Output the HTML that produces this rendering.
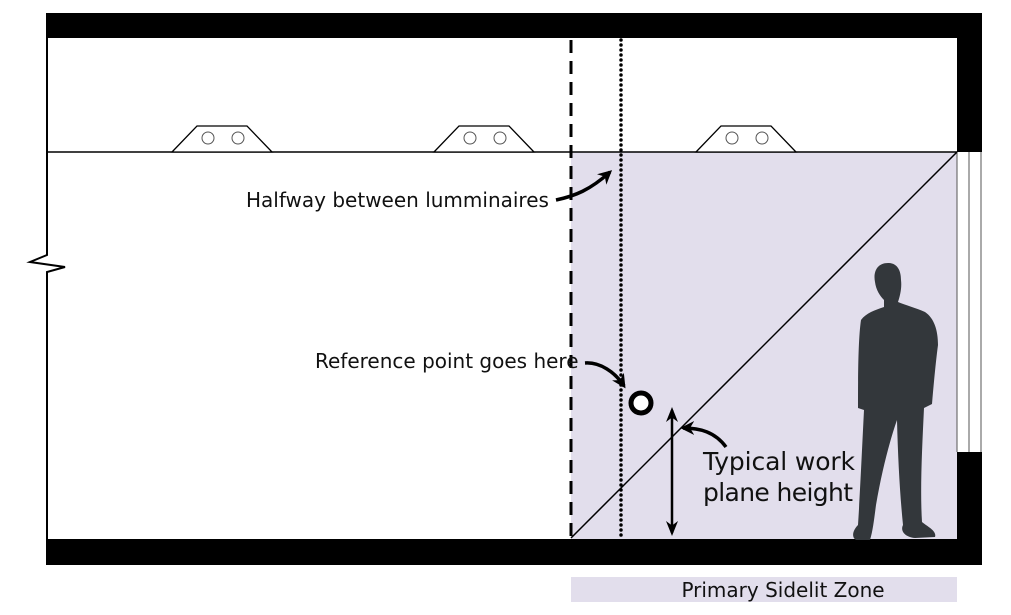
<!DOCTYPE html>
<html><head><meta charset="utf-8"><style>
html,body{margin:0;padding:0;background:#fff;}
svg{display:block;}
text{font-family:"DejaVu Sans","Liberation Sans",sans-serif;fill:#111;}
</style></head><body>
<svg width="1011" height="615" viewBox="0 0 1011 615" xmlns="http://www.w3.org/2000/svg">
<defs>
<marker id="ah" viewBox="0 0 10 10" refX="8" refY="5" markerWidth="4" markerHeight="4" orient="auto-start-reverse"><path d="M0,0 L10,5 L0,10 L3,5 z" fill="#000"/></marker>
<marker id="ah2" viewBox="0 0 10 10" refX="8" refY="5" markerWidth="6" markerHeight="6" orient="auto-start-reverse"><path d="M0,1 L10,5 L0,9 L3,5 z" fill="#000"/></marker>
</defs>
<rect x="571" y="152" width="386" height="387" fill="#e2deec"/>
<rect x="46" y="13" width="936" height="25" fill="#000"/>
<rect x="957" y="13" width="25" height="139" fill="#000"/>
<rect x="957" y="452" width="25" height="113" fill="#000"/>
<rect x="46" y="539" width="936" height="26" fill="#000"/>
<line x1="969" y1="152" x2="969" y2="452" stroke="#555" stroke-width="1"/>
<line x1="981" y1="152" x2="981" y2="452" stroke="#555" stroke-width="1"/>
<line x1="957" y1="152" x2="957" y2="452" stroke="#555" stroke-width="1"/>
<polyline points="47,38 47,255 30,262 65,267 47,272 47,539" fill="none" stroke="#000" stroke-width="2"/>
<line x1="46" y1="152" x2="957" y2="152" stroke="#000" stroke-width="1.5"/>
<g fill="#fff" stroke="#000" stroke-width="1.3">
<polygon points="172,152 197,126 247,126 272,152"/>
<polygon points="434,152 459,126 509,126 534,152"/>
<polygon points="696,152 721,126 771,126 796,152"/>
</g>
<g fill="none" stroke="#555" stroke-width="1">
<circle cx="208" cy="138" r="6"/><circle cx="238" cy="138" r="6"/>
<circle cx="470" cy="138" r="6"/><circle cx="500" cy="138" r="6"/>
<circle cx="732" cy="138" r="6"/><circle cx="762" cy="138" r="6"/>
</g>
<line x1="571" y1="40" x2="571" y2="538" stroke="#000" stroke-width="3" stroke-dasharray="13,8"/>
<line x1="621" y1="40" x2="621" y2="538" stroke="#000" stroke-width="3.5" stroke-linecap="round" stroke-dasharray="0,5"/>
<line x1="571" y1="538" x2="957" y2="152" stroke="#000" stroke-width="1.5"/>
<path d="M556,200 C575,196 590,190 610,172" fill="none" stroke="#000" stroke-width="3.5" marker-end="url(#ah)"/>
<path d="M585,363 C600,362 615,372 624,386" fill="none" stroke="#000" stroke-width="3.5" marker-end="url(#ah)"/>
<path d="M726,447 C715,432 700,428 683,428" fill="none" stroke="#000" stroke-width="3.5" marker-end="url(#ah)"/>
<line x1="672" y1="410" x2="672" y2="533" stroke="#000" stroke-width="2.5" marker-start="url(#ah2)" marker-end="url(#ah2)"/>
<circle cx="641" cy="403" r="10" fill="#fff" stroke="#000" stroke-width="5"/>
<path fill="#33373b" d="M888,263 C877,263 873,272 875,282 C876,290 880,296 884,300 L884,307 C875,310 866,313 861,320 C858,340 858,380 858,408 L864,410 C862,450 860,495 858,525 C853,530 851,537 856,540 L870,540 C873,530 874,520 876,505 C882,470 890,440 897,420 C898,460 900,495 903,525 C900,531 905,537 915,538 L935,537 C937,531 928,527 922,522 C920,490 922,450 924,408 L932,404 C934,380 936,360 938,345 C938,330 934,318 925,312 C916,308 905,305 898,302 C900,296 902,288 901,280 C901,270 897,263 888,263 Z"/>
<text x="246" y="207" font-size="20">Halfway between lumminaires</text>
<text x="315" y="368" font-size="20">Reference point goes here</text>
<text x="703" y="470" font-size="25" textLength="152">Typical work</text>
<text x="703" y="501" font-size="25" textLength="150">plane height</text>
<rect x="571" y="577" width="386" height="25" fill="#e2deec"/>
<text x="783" y="597" font-size="20" text-anchor="middle">Primary Sidelit Zone</text>
</svg>
</body></html>
